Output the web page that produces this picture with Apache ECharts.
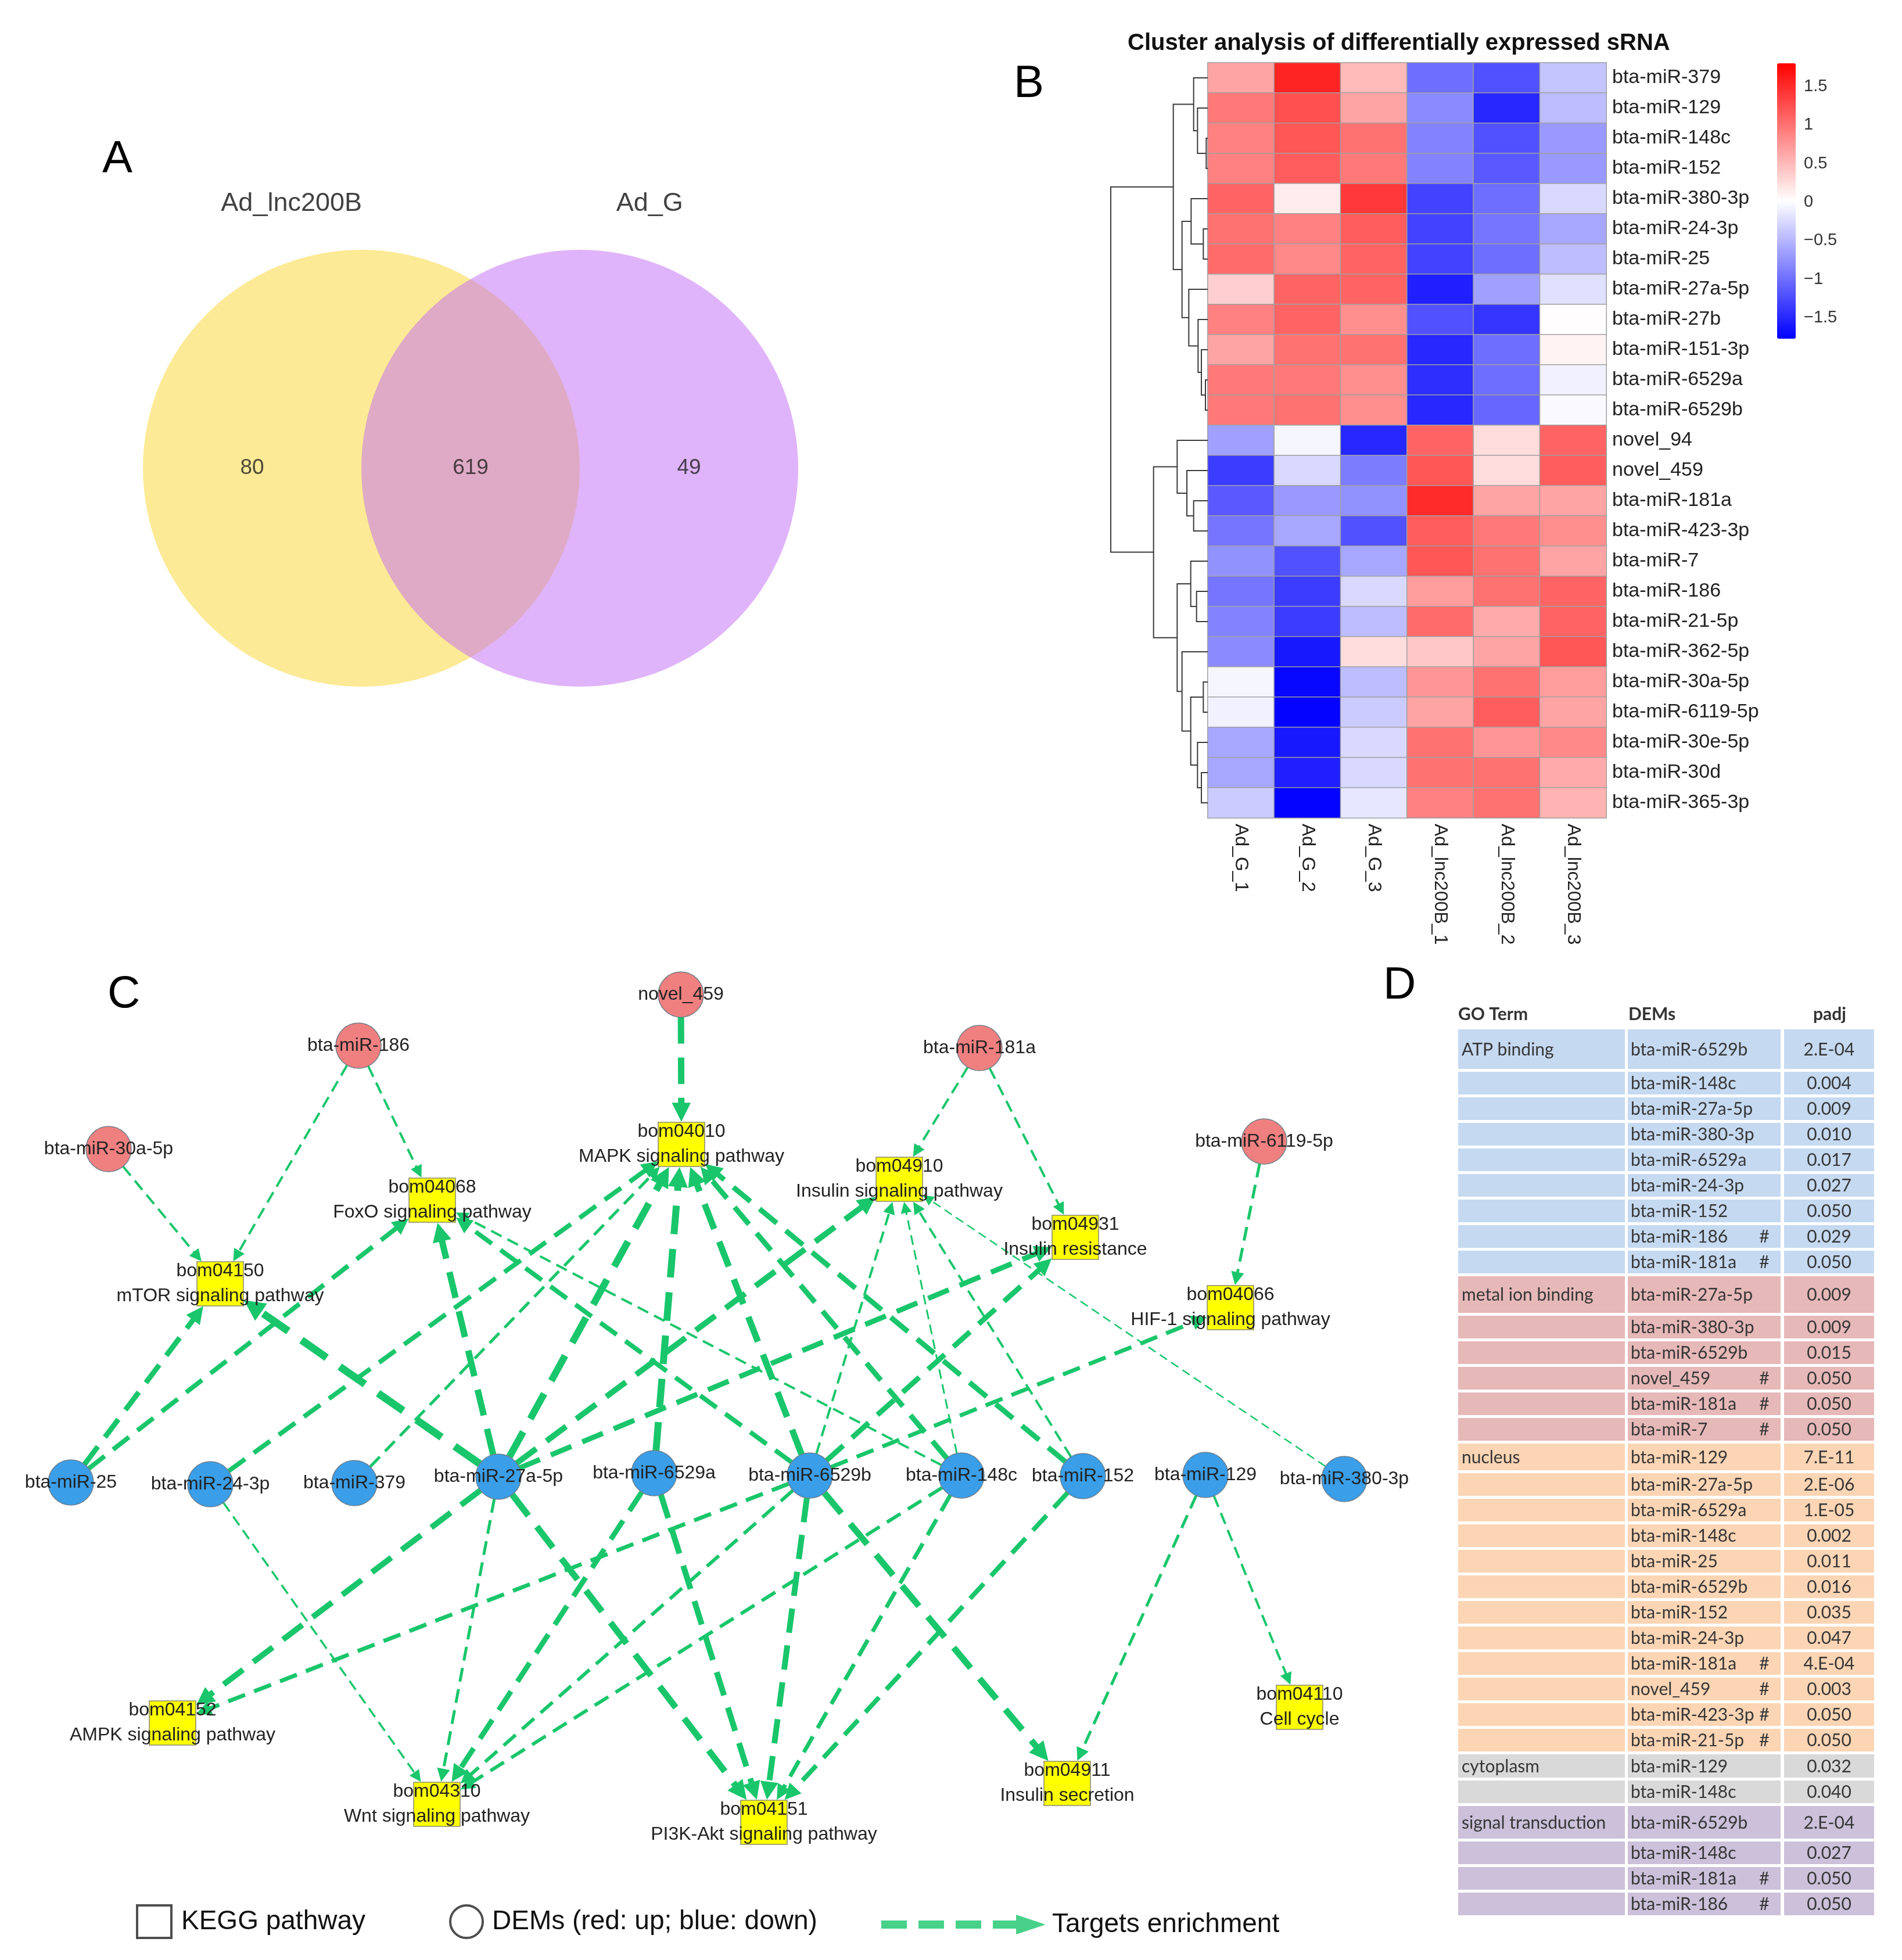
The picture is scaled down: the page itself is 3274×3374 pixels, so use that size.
<!DOCTYPE html>
<html><head><meta charset="utf-8">
<script src="https://cdn.jsdelivr.net/npm/echarts@6/dist/echarts.min.js"></script>
<style>html,body{margin:0;padding:0;background:#fff}#c{width:3274px;height:3374px}</style>
</head><body><div id="c"></div>
<script>
// ================= DATA =================
// Panel A: Venn
const vennSets = ['Ad_lnc200B', 'Ad_G'];
const vennOnly = [80, 49];
const vennShared = 619;

// Panel B: heatmap (row z-scores)
const samples = ['Ad_G_1','Ad_G_2','Ad_G_3','Ad_lnc200B_1','Ad_lnc200B_2','Ad_lnc200B_3'];
const srnas = ['bta-miR-379','bta-miR-129','bta-miR-148c','bta-miR-152','bta-miR-380-3p','bta-miR-24-3p','bta-miR-25','bta-miR-27a-5p','bta-miR-27b','bta-miR-151-3p','bta-miR-6529a','bta-miR-6529b','novel_94','novel_459','bta-miR-181a','bta-miR-423-3p','bta-miR-7','bta-miR-186','bta-miR-21-5p','bta-miR-362-5p','bta-miR-30a-5p','bta-miR-6119-5p','bta-miR-30e-5p','bta-miR-30d','bta-miR-365-3p'];
const zscores = [
  [0.65, 1.55, 0.50, -1.00, -1.20, -0.40],
  [0.95, 1.25, 0.65, -0.80, -1.50, -0.45],
  [0.90, 1.20, 1.00, -0.85, -1.20, -0.70],
  [0.90, 1.15, 0.95, -0.85, -1.15, -0.70],
  [1.10, 0.15, 1.40, -1.30, -1.00, -0.25],
  [1.00, 0.90, 1.15, -1.30, -0.95, -0.60],
  [1.05, 0.85, 1.10, -1.30, -1.00, -0.45],
  [0.35, 1.10, 1.10, -1.55, -0.65, -0.20],
  [0.90, 1.10, 0.80, -1.20, -1.40, 0.03],
  [0.65, 1.00, 1.00, -1.50, -1.00, 0.10],
  [0.95, 0.95, 0.80, -1.45, -1.00, -0.08],
  [0.95, 1.00, 0.80, -1.50, -1.05, -0.03],
  [-0.65, -0.05, -1.50, 1.10, 0.25, 1.10],
  [-1.35, -0.25, -0.90, 1.20, 0.25, 1.15],
  [-1.15, -0.70, -0.75, 1.50, 0.65, 0.65],
  [-0.95, -0.60, -1.20, 1.15, 0.95, 0.80],
  [-0.75, -1.20, -0.60, 1.20, 1.00, 0.65],
  [-0.95, -1.35, -0.25, 0.70, 1.00, 1.10],
  [-0.85, -1.35, -0.45, 1.05, 0.60, 1.10],
  [-0.80, -1.60, 0.25, 0.40, 0.65, 1.20],
  [-0.05, -1.72, -0.45, 0.75, 1.00, 0.70],
  [-0.08, -1.75, -0.35, 0.65, 1.15, 0.65],
  [-0.60, -1.60, -0.25, 1.00, 0.75, 0.85],
  [-0.60, -1.55, -0.25, 1.00, 1.00, 0.60],
  [-0.35, -1.75, -0.15, 0.90, 1.00, 0.55]
];
const colorMin = -1.77, colorMax = 1.80;
const colorTicks = [-1.5, -1, -0.5, 0, 0.5, 1, 1.5];
// row dendrogram merges: [childA, childB, height]; 'mK' = K-th merge
const dendroMerges = [
  ['bta-miR-148c','bta-miR-152',8], ['bta-miR-129','m0',53], ['bta-miR-379','m1',73],
  ['bta-miR-24-3p','bta-miR-25',23], ['bta-miR-380-3p','m3',86],
  ['bta-miR-6529a','bta-miR-6529b',12], ['bta-miR-151-3p','m5',33], ['bta-miR-27b','m6',50], ['bta-miR-27a-5p','m7',98],
  ['m4','m8',133], ['m2','m9',178],
  ['bta-miR-181a','bta-miR-423-3p',73], ['novel_459','m11',108], ['novel_94','m12',158],
  ['bta-miR-186','bta-miR-21-5p',58], ['bta-miR-7','m14',88],
  ['bta-miR-30a-5p','bta-miR-6119-5p',23], ['bta-miR-30d','bta-miR-365-3p',33], ['bta-miR-30e-5p','m17',53], ['m16','m18',88],
  ['bta-miR-362-5p','m19',133], ['m15','m20',158], ['m13','m21',280], ['m10','m22',501]
];

// Panel C: network (layout coordinates of the network drawing)
const pathwayIds = ['bom04010','bom04068','bom04150','bom04910','bom04931','bom04066','bom04152','bom04310','bom04151','bom04911','bom04110'];
const pathwayNames = ['MAPK signaling pathway','FoxO signaling pathway','mTOR signaling pathway','Insulin signaling pathway','Insulin resistance','HIF-1 signaling pathway','AMPK signaling pathway','Wnt signaling pathway','PI3K-Akt signaling pathway','Insulin secretion','Cell cycle'];
const pathwayLayout = [[1173,320],[744,416],[379,560],[1548,380],[1851,480],[2118,601],[297,1316],[752,1456],[1315,1487],[1837,1420],[2237,1289]];
const demNames = ['novel_459','bta-miR-186','bta-miR-181a','bta-miR-30a-5p','bta-miR-6119-5p','bta-miR-25','bta-miR-24-3p','bta-miR-379','bta-miR-27a-5p','bta-miR-6529a','bta-miR-6529b','bta-miR-148c','bta-miR-152','bta-miR-129','bta-miR-380-3p'];
const demRegulation = ['up','up','up','up','up','down','down','down','down','down','down','down','down','down','down'];
const demLayout = [[1172,62],[617,150],[1686,154],[187,328],[2176,315],[122,902],[362,905],[610,903],[858,892],[1126,886],[1394,890],[1655,890],[1864,891],[2075,889],[2314,896]];
const edgeSources = ['novel_459','bta-miR-186','bta-miR-186','bta-miR-30a-5p','bta-miR-181a','bta-miR-181a','bta-miR-6119-5p',
  'bta-miR-25','bta-miR-25','bta-miR-24-3p','bta-miR-24-3p','bta-miR-379',
  'bta-miR-27a-5p','bta-miR-27a-5p','bta-miR-27a-5p','bta-miR-27a-5p','bta-miR-27a-5p','bta-miR-27a-5p','bta-miR-27a-5p','bta-miR-27a-5p',
  'bta-miR-6529a','bta-miR-6529a','bta-miR-6529a',
  'bta-miR-6529b','bta-miR-6529b','bta-miR-6529b','bta-miR-6529b','bta-miR-6529b','bta-miR-6529b','bta-miR-6529b','bta-miR-6529b','bta-miR-6529b',
  'bta-miR-148c','bta-miR-148c','bta-miR-148c','bta-miR-148c','bta-miR-148c',
  'bta-miR-152','bta-miR-152','bta-miR-152','bta-miR-129','bta-miR-129','bta-miR-380-3p'];
const edgeTargets = ['bom04010','bom04150','bom04068','bom04150','bom04910','bom04931','bom04066',
  'bom04150','bom04068','bom04010','bom04310','bom04010',
  'bom04150','bom04068','bom04010','bom04910','bom04931','bom04152','bom04310','bom04151',
  'bom04010','bom04151','bom04310',
  'bom04010','bom04068','bom04910','bom04931','bom04066','bom04152','bom04310','bom04151','bom04911',
  'bom04010','bom04068','bom04910','bom04151','bom04310',
  'bom04010','bom04910','bom04151','bom04911','bom04110','bom04910'];
const edgeWeights = [11,4,4,4,4,4,5, 9,8,8,3.5,5, 13,11,12,10,9,10,5,11, 12,10,9, 11,8,4,9,7,7,6,10,11, 9,4,3,7,6, 9,4,8,5,4,2.5];

// Panel D: GO table
const goTerms = ['ATP binding','metal ion binding','nucleus','cytoplasm','signal transduction'];
const goDems = [
  ['bta-miR-6529b','bta-miR-148c','bta-miR-27a-5p','bta-miR-380-3p','bta-miR-6529a','bta-miR-24-3p','bta-miR-152','bta-miR-186','bta-miR-181a'],
  ['bta-miR-27a-5p','bta-miR-380-3p','bta-miR-6529b','novel_459','bta-miR-181a','bta-miR-7'],
  ['bta-miR-129','bta-miR-27a-5p','bta-miR-6529a','bta-miR-148c','bta-miR-25','bta-miR-6529b','bta-miR-152','bta-miR-24-3p','bta-miR-181a','novel_459','bta-miR-423-3p','bta-miR-21-5p'],
  ['bta-miR-129','bta-miR-148c'],
  ['bta-miR-6529b','bta-miR-148c','bta-miR-181a','bta-miR-186']
];
const goFlags = [
  [0,0,0,0,0,0,0,1,1],
  [0,0,0,1,1,1],
  [0,0,0,0,0,0,0,0,1,1,1,1],
  [0,0],
  [0,0,1,1]
];
const goPadj = [
  ['2.E-04','0.004','0.009','0.010','0.017','0.027','0.050','0.029','0.050'],
  ['0.009','0.009','0.015','0.050','0.050','0.050'],
  ['7.E-11','2.E-06','1.E-05','0.002','0.011','0.016','0.035','0.047','4.E-04','0.003','0.050','0.050'],
  ['0.032','0.040'],
  ['2.E-04','0.027','0.050','0.050']
];

// ================= STYLE / LAYOUT =================
const FONT = 'Liberation Sans';
const vennColors = ['#FBD52D', '#C169F5'];
const vennRadius = 1, vennOffset = 0.5, vennRange = 1.5;
const vennGrid = {left: 246, top: 242, width: 1128, height: 1128};
const heatGrid = {left: 2079, top: 108, width: 686, height: 1300};
const dendroGrid = {left: 1912, top: 108, width: 167, height: 1300};
const cbarGrid = {left: 3059, top: 109, width: 32, height: 474};
const netGrid = {left: 0, top: 1650, width: 2400, height: 1724};
const netRange = [2400, 1724];
const tableGrid = {left: 2510, top: 1772, width: 716, height: 1530};
const edgeColor = '#19C66B';
const circleSize = 78, squareSize = [80, 76];
const goColors = ['#C5D9F1', '#E6B8B7', '#FCD5B4', '#D9D9D9', '#CCC0DA'];
const goFirstRowHeight = [73, 68, 51, 45, 61];
const goRowHeight = 44, goRowGap = 5;
const goColumns = [[0, 287], [292, 555], [561, 716]];

// ================= BUILD =================
const pxPerUnit = vennGrid.width / (2 * vennRange);
const vennCircles = vennSets.map((s, i) => ({
  name: s, value: [i === 0 ? -vennOffset : vennOffset, 0],
  itemStyle: {color: vennColors[i], opacity: 0.5}
}));
const vennCounts = [[-vennRadius, 0, vennOnly[0]], [0, 0, vennShared], [vennRadius, 0, vennOnly[1]]];
const vennLabels = [[-0.82, 1.21, vennSets[0]], [0.82, 1.21, vennSets[1]]];

const heatData = [];
srnas.forEach((r, i) => zscores[i].forEach((v, j) => heatData.push([j, i, v])));

const dpos = {};
srnas.forEach((n, i) => { dpos[n] = {y: i, h: 0}; });
const dendroSegs = dendroMerges.map(([a, b, h], k) => {
  const A = dpos[a], B = dpos[b];
  dpos['m' + k] = {y: (A.y + B.y) / 2, h: h};
  return {coords: [[A.h, A.y], [h, A.y], [h, B.y], [B.h, B.y]]};
});

// network nodes
const nodePos = {}, nodeShape = {};
const graphNodes = [];
const nodeLabels = [];
pathwayIds.forEach((id, i) => {
  nodePos[id] = pathwayLayout[i]; nodeShape[id] = 'rect';
  graphNodes.push({name: id, value: pathwayLayout[i], symbol: 'rect', symbolSize: squareSize,
    itemStyle: {color: '#FFFF00', borderColor: '#8a8a70', borderWidth: 1.5}});
  nodeLabels.push(id + '\n' + pathwayNames[i]);
});
demNames.forEach((n, i) => {
  nodePos[n] = demLayout[i]; nodeShape[n] = 'circle';
  graphNodes.push({name: n, value: demLayout[i], symbol: 'circle', symbolSize: circleSize,
    itemStyle: {color: demRegulation[i] === 'up' ? '#F08080' : '#3A9EE8', borderColor: '#6f7f8c', borderWidth: 1.5}});
  nodeLabels.push(n);
});
// edges: clipped at the node outlines (in screen pixels of the network grid)
const sx = netGrid.width / netRange[0], sy = netGrid.height / netRange[1];
function boundaryDist(name, ux, uy) {
  if (nodeShape[name] === 'circle') return circleSize / 2;
  const hw = squareSize[0] / 2, hh = squareSize[1] / 2;
  return Math.min(Math.abs(ux) > 1e-9 ? hw / Math.abs(ux) : 1e9, Math.abs(uy) > 1e-9 ? hh / Math.abs(uy) : 1e9);
}
const edgeLines = edgeSources.map((s, i) => {
  const w = edgeWeights[i];
  const a = nodePos[s], b = nodePos[edgeTargets[i]];
  const dx = (b[0] - a[0]) * sx, dy = (b[1] - a[1]) * sy;
  const L = Math.hypot(dx, dy), ux = dx / L, uy = dy / L;
  const arrow = 14 + 1.7 * w;
  const d0 = boundaryDist(s, ux, uy);
  const d1 = boundaryDist(edgeTargets[i], ux, uy) + arrow / 2 + 1;
  return {
    coords: [[a[0] + ux * d0 / sx, a[1] + uy * d0 / sy], [b[0] - ux * d1 / sx, b[1] - uy * d1 / sy]],
    symbolSize: [0, arrow],
    lineStyle: {width: w, type: [3.6 * w + 6, 1.8 * w + 4], color: edgeColor, opacity: 1}
  };
});

const goRows = [];
let yCur = 0;
goTerms.forEach((t, g) => goDems[g].forEach((d, i) => {
  const h = i === 0 ? goFirstRowHeight[g] : goRowHeight;
  goRows.push({g: g, first: i === 0, term: t, dem: d, flag: goFlags[g][i], padj: goPadj[g][i], y0: yCur, y1: yCur + h - goRowGap});
  yCur += h;
}));

function txt(s, x, y, extra) {
  return {type: 'text', style: Object.assign({text: s, x: x, y: y, fill: '#363636', fontSize: 30, fontFamily: 'Lato',
    align: 'left', verticalAlign: 'middle', textAlign: 'left', textVerticalAlign: 'middle'}, extra || {})};
}
function renderTableRow(params, api) {
  const r = goRows[params.dataIndex];
  const yT = api.coord([0, api.value(1)])[1];
  const yB = api.coord([0, api.value(2)])[1];
  const ch = [];
  const xs = goColumns.map(([a, b]) => [api.coord([a, 0])[0], api.coord([b, 0])[0]]);
  xs.forEach(([x0, x1]) => ch.push({type: 'rect', shape: {x: x0, y: yT, width: x1 - x0, height: yB - yT}, style: {fill: goColors[r.g]}}));
  const ym = (yT + yB) / 2 + 1;
  if (r.first) ch.push(txt(r.term, xs[0][0] + 6, ym));
  ch.push(txt(r.dem, xs[1][0] + 5, ym));
  if (r.flag) ch.push(txt('#', xs[1][1] - 28, ym, {align: 'center', textAlign: 'center'}));
  ch.push(txt(r.padj, (xs[2][0] + xs[2][1]) / 2, ym, {align: 'center', textAlign: 'center'}));
  return {type: 'group', children: ch};
}

const hidden = (gi, extra) => Object.assign({gridIndex: gi, type: 'value', show: false}, extra);

const option = {
  animation: false,
  backgroundColor: '#fff',
  textStyle: {fontFamily: FONT},
  title: [
    {text: 'A', left: 176, top: 236, padding: 0, textStyle: {fontSize: 78, fontWeight: 'normal', color: '#000', fontFamily: FONT}},
    {text: 'B', left: 1745, top: 106, padding: 0, textStyle: {fontSize: 78, fontWeight: 'normal', color: '#000', fontFamily: FONT}},
    {text: 'C', left: 185, top: 1673, padding: 0, textStyle: {fontSize: 78, fontWeight: 'normal', color: '#000', fontFamily: FONT}},
    {text: 'D', left: 2381, top: 1658, padding: 0, textStyle: {fontSize: 78, fontWeight: 'normal', color: '#000', fontFamily: FONT}},
    {text: 'Cluster analysis of differentially expressed sRNA', left: 1941, top: 55, padding: 0, textStyle: {fontSize: 40, fontWeight: 'bold', color: '#111', fontFamily: FONT}},
    {text: 'GO Term', left: 2510, top: 1731, padding: 0, textStyle: {fontSize: 30, fontWeight: 'bold', color: '#333', fontFamily: 'Lato'}},
    {text: 'DEMs', left: 2803, top: 1731, padding: 0, textStyle: {fontSize: 30, fontWeight: 'bold', color: '#333', fontFamily: 'Lato'}},
    {text: 'padj', left: 3121, top: 1731, padding: 0, textStyle: {fontSize: 30, fontWeight: 'bold', color: '#333', fontFamily: 'Lato'}}
  ],
  grid: [vennGrid, heatGrid, dendroGrid, cbarGrid, netGrid, tableGrid],
  xAxis: [
    hidden(0, {min: -vennRange, max: vennRange}),
    {gridIndex: 1, type: 'category', data: samples, axisLine: {show: false}, axisTick: {show: false}, splitLine: {show: false},
      axisLabel: {rotate: -90, fontSize: 32, color: '#222', margin: 10, fontFamily: FONT}},
    hidden(2, {min: 0, max: 501, inverse: true}),
    hidden(3, {min: 0, max: 1}),
    hidden(4, {min: 0, max: netRange[0]}),
    hidden(5, {min: 0, max: tableGrid.width})
  ],
  yAxis: [
    hidden(0, {min: -vennRange, max: vennRange}),
    {gridIndex: 1, type: 'category', data: srnas, inverse: true, position: 'right', axisLine: {show: false}, axisTick: {show: false}, splitLine: {show: false},
      axisLabel: {fontSize: 34, color: '#222', margin: 10, fontFamily: FONT}},
    hidden(2, {min: -0.5, max: srnas.length - 0.5, inverse: true}),
    {gridIndex: 3, type: 'value', min: colorMin, max: colorMax, position: 'right',
      axisLine: {show: false}, axisTick: {show: false}, splitLine: {show: false},
      axisLabel: {customValues: colorTicks, margin: 14, fontSize: 29, color: '#333', fontFamily: FONT,
        formatter: v => (v < 0 ? '\u2212' + Math.abs(v) : String(v))}},
    hidden(4, {min: 0, max: netRange[1], inverse: true}),
    hidden(5, {min: 0, max: tableGrid.height, inverse: true})
  ],
  visualMap: {
    type: 'continuous', seriesIndex: 3, min: colorMin, max: colorMax,
    inRange: {color: ['#0000FF', '#FFFFFF', '#FF0000']},
    left: cbarGrid.left, top: cbarGrid.top, itemWidth: cbarGrid.width, itemHeight: cbarGrid.height,
    calculable: false, padding: 0, hoverLink: false
  },
  legend: [
    {data: [{name: 'KEGG pathway', icon: 'rect'}], left: 234, top: 3278, padding: 0, itemWidth: 59, itemHeight: 56, selectedMode: false,
      itemStyle: {color: '#fff', borderColor: '#222', borderWidth: 4},
      textStyle: {fontSize: 46, color: '#111', fontFamily: FONT, padding: [0, 0, 0, 12]}},
    {data: [{name: 'DEMs (red: up; blue: down)', icon: 'circle'}], left: 773, top: 3278, padding: 0, itemWidth: 58, itemHeight: 56, selectedMode: false,
      itemStyle: {color: '#fff', borderColor: '#222', borderWidth: 4},
      textStyle: {fontSize: 46, color: '#111', fontFamily: FONT, padding: [0, 0, 0, 10]}},
    {data: [{name: 'Targets enrichment', icon: 'path://M0,10H44V24H0Z M64,10H108V24H64Z M128,10H172V24H128Z M192,10H232V24H192Z M232,0L283,17L232,34Z'}],
      left: 1517, top: 3290, padding: 0, itemWidth: 283, itemHeight: 34, selectedMode: false,
      itemStyle: {color: edgeColor},
      textStyle: {fontSize: 46, color: '#111', fontFamily: FONT, padding: [0, 0, 0, 6]}}
  ],
  series: [
    {type: 'scatter', xAxisIndex: 0, yAxisIndex: 0, data: vennCircles, symbol: 'circle',
      symbolSize: 2 * vennRadius * pxPerUnit, silent: true, emphasis: {disabled: true}},
    {type: 'scatter', xAxisIndex: 0, yAxisIndex: 0, data: vennCounts, symbolSize: 1, itemStyle: {color: 'rgba(0,0,0,0)'},
      silent: true, label: {show: true, position: 'inside', formatter: p => String(p.value[2]), fontSize: 37, color: '#222', fontFamily: FONT}},
    {type: 'scatter', xAxisIndex: 0, yAxisIndex: 0, data: vennLabels, symbolSize: 1, itemStyle: {color: 'rgba(0,0,0,0)'},
      silent: true, label: {show: true, position: 'inside', formatter: p => p.value[2], fontSize: 45, color: '#111', fontFamily: FONT}},
    {type: 'heatmap', xAxisIndex: 1, yAxisIndex: 1, data: heatData, silent: true,
      itemStyle: {borderColor: '#a0a0a0', borderWidth: 1.5}, emphasis: {disabled: true}},
    {type: 'lines', coordinateSystem: 'cartesian2d', xAxisIndex: 2, yAxisIndex: 2, polyline: true, data: dendroSegs, silent: true,
      lineStyle: {color: '#3a3a3a', width: 2, opacity: 1}},
    {type: 'scatter', xAxisIndex: 3, yAxisIndex: 3, data: [], silent: true},
    {type: 'lines', coordinateSystem: 'cartesian2d', xAxisIndex: 4, yAxisIndex: 4, data: edgeLines, silent: true, z: 2,
      symbol: ['none', 'triangle'], lineStyle: {color: edgeColor, opacity: 1}},
    {type: 'graph', layout: 'none', coordinateSystem: 'cartesian2d', xAxisIndex: 4, yAxisIndex: 4, z: 3,
      data: graphNodes, links: [], silent: true, roam: false, emphasis: {disabled: true},
      label: {show: true, position: 'inside', fontSize: 32, lineHeight: 43, color: '#222', fontFamily: FONT,
        formatter: p => nodeLabels[p.dataIndex]}},
    {type: 'scatter', name: 'KEGG pathway', xAxisIndex: 4, yAxisIndex: 4, data: [], symbol: 'rect'},
    {type: 'scatter', name: 'DEMs (red: up; blue: down)', xAxisIndex: 4, yAxisIndex: 4, data: [], symbol: 'circle'},
    {type: 'scatter', name: 'Targets enrichment', xAxisIndex: 4, yAxisIndex: 4, data: [], itemStyle: {color: edgeColor}},
    {type: 'custom', xAxisIndex: 5, yAxisIndex: 5, silent: true,
      data: goRows.map(r => [0, r.y0, r.y1]), encode: {x: 0, y: [1, 2]}, renderItem: renderTableRow}
  ]
};

const chart = echarts.init(document.getElementById('c'), null, {renderer: 'canvas', width: 3274, height: 3374});
chart.setOption(option);
</script>
</body></html>
